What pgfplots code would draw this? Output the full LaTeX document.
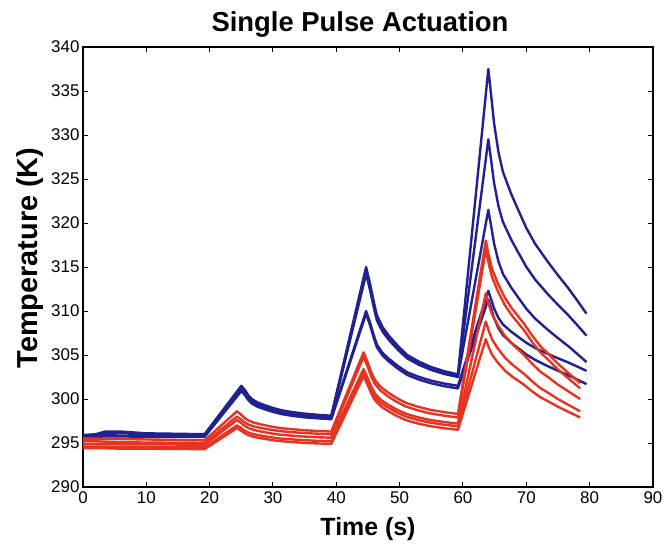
\documentclass[border=0pt]{standalone}
\usepackage{pgfplots}
\usepackage{pgfplotstable}
\pgfplotsset{compat=1.18}
\usepackage{fontspec}
\setmainfont{Liberation Sans}
\definecolor{mblue}{RGB}{32,34,146}
\definecolor{mred}{RGB}{230,52,34}

\pgfplotstableread{
t b1 b2 b3 b4 b5
0 295.9 295.8 295.8 295.7 295.7
2 296.0 295.9 295.9 295.75 295.7
3.5 296.3 296.2 296.0 295.8 295.75
6 296.3 296.2 296.1 295.8 295.75
10 296.1 296.0 296.0 295.8 295.7
19.2 296.0 295.95 295.9 295.8 295.7
25 301.5 301.3 301.2 301.0 300.9
25.6 300.99 300.81 300.71 300.52 300.42
26.1 300.41 300.24 300.14 299.98 299.88
26.7 299.97 299.82 299.72 299.56 299.46
27.6 299.6 299.45 299.35 299.21 299.11
28.6 299.32 299.19 299.09 298.95 298.85
30.0 298.98 298.86 298.76 298.63 298.53
31.4 298.71 298.59 298.49 298.38 298.28
33.1 298.51 298.4 298.3 298.18 298.08
34.9 298.34 298.23 298.13 298.02 297.92
37.1 298.2 298.1 298.0 297.9 297.8
39.2 298.1 298.0 297.9 297.8 297.7
44.7 315.0 314.6 314.2 310.0 309.7
45.3 313.17 312.8 312.45 308.73 308.43
45.9 311.1 310.76 310.46 307.28 306.98
46.4 309.51 309.2 308.94 306.18 305.88
47.3 308.17 307.88 307.65 305.24 304.94
48.3 307.19 306.92 306.71 304.56 304.26
49.8 305.97 305.72 305.54 303.71 303.41
51.2 305.0 304.76 304.61 303.03 302.73
53.0 304.26 304.04 303.9 302.52 302.22
54.9 303.65 303.44 303.32 302.1 301.8
57.0 303.17 302.96 302.85 301.76 301.46
59.2 302.8 302.6 302.5 301.5 301.2
64 337.5 329.5 321.5 312.3 311.3
64.5 334.16 326.82 319.42 311.21 310.15
64.9 331.38 324.59 317.69 310.3 309.19
65.6 328.05 321.92 315.62 309.21 308.04
66.3 325.82 320.13 314.23 308.48 307.27
67.6 323.32 318.13 312.68 307.66 306.4
68.7 321.52 316.68 311.55 307.07 305.78
70.0 319.43 315.01 310.26 306.39 305.06
71.4 317.62 313.56 309.13 305.79 304.44
73.3 315.68 311.99 307.92 305.16 303.76
74.9 314.15 310.77 306.97 304.66 303.24
76.6 312.62 309.54 306.02 304.16 302.71
78.0 311.23 308.43 305.15 303.7 302.23
79.5 309.7 307.2 304.2 303.2 301.7
}\bluedata

\pgfplotstableread{
t r1 r2 r3 r4 r5
0 295.5 295.2 294.9 294.6 294.4
2 295.5 295.2 294.9 294.6 294.4
3.5 295.45 295.15 294.9 294.6 294.4
6 295.45 295.1 294.85 294.55 294.35
10 295.4 295.05 294.85 294.55 294.35
19.2 295.3 295.0 294.8 294.5 294.3
24.3 298.6 298.0 297.6 297.0 296.7
24.9 298.26 297.7 297.3 296.73 296.43
25.5 297.86 297.36 296.96 296.42 296.12
26.1 297.57 297.1 296.7 296.19 295.89
27.0 297.31 296.88 296.48 295.99 295.69
28.0 297.13 296.72 296.32 295.85 295.55
29.5 296.9 296.52 296.12 295.67 295.37
31.0 296.71 296.36 295.96 295.52 295.22
32.8 296.58 296.24 295.84 295.42 295.12
34.7 296.46 296.14 295.74 295.33 295.03
37.0 296.37 296.06 295.66 295.25 294.95
39.2 296.3 296.0 295.6 295.2 294.9
44.3 305.3 304.8 303.4 303.0 302.6
44.9 304.25 303.77 302.47 302.09 301.69
45.5 303.06 302.59 301.42 301.05 300.65
46.1 302.15 301.7 300.61 300.26 299.86
47.0 301.38 300.94 299.93 299.58 299.18
48.0 300.82 300.38 299.43 299.1 298.7
49.5 300.12 299.69 298.81 298.49 298.09
51.0 299.56 299.14 298.32 298.0 297.6
52.8 299.14 298.73 297.94 297.63 297.23
54.7 298.79 298.38 297.63 297.33 296.93
57.0 298.51 298.11 297.39 297.08 296.68
59.2 298.3 297.9 297.2 296.9 296.5
63.6 318.0 317.0 312.0 308.8 306.8
64.05 316.38 315.42 310.8 307.78 305.91
64.6 314.76 313.84 309.6 306.76 305.02
65.5 313.14 312.26 308.4 305.74 304.13
66.6 311.52 310.68 307.2 304.72 303.24
67.8 310.22 309.42 306.24 303.9 302.53
69.6 308.6 307.84 305.04 302.88 301.64
70.9 307.23 306.49 304.02 302.02 300.88
72.2 306.01 305.31 303.12 301.25 300.21
73.6 305.04 304.36 302.4 300.64 299.68
74.9 304.07 303.41 301.68 300.03 299.15
76.7 302.93 302.31 300.84 299.31 298.52
78.5 301.8 301.2 300.0 298.6 297.9
}\reddata

\begin{document}
\begin{tikzpicture}
\path[use as bounding box] (-83bp,-60bp) rectangle (585bp,487bp);
\begin{axis}[
  scale only axis,
  width=570bp, height=440bp,
  at={(0,0)}, anchor=south west,
  xmin=0, xmax=90, ymin=290, ymax=340,
  xtick={0,10,...,90}, ytick={290,295,...,340},
  tick align=inside,
  major tick length=5bp,
  axis line style={line width=1.1bp},
  every tick/.style={line width=1bp, black},
  /pgf/number format/assume math mode=true,
  tick label style={font=\fontsize{17}{20}\selectfont},
  xticklabel style={yshift=-1bp},
  clip=false,
  every axis plot/.append style={line width=2.4bp, line join=round, no markers},
]
\addplot[mblue] table[x=t,y=b5] {\bluedata};
\addplot[mblue] table[x=t,y=b4] {\bluedata};
\addplot[mblue] table[x=t,y=b3] {\bluedata};
\addplot[mblue] table[x=t,y=b2] {\bluedata};
\addplot[mblue] table[x=t,y=b1] {\bluedata};
\addplot[mred] table[x=t,y=r5] {\reddata};
\addplot[mred] table[x=t,y=r4] {\reddata};
\addplot[mred] table[x=t,y=r3] {\reddata};
\addplot[mred] table[x=t,y=r2] {\reddata};
\addplot[mred] table[x=t,y=r1] {\reddata};
\end{axis}
\node[anchor=base, font=\fontsize{27.5}{30}\selectfont\bfseries] at (277bp,455bp) {Single Pulse Actuation};
\node[anchor=base, font=\fontsize{25}{30}\selectfont\bfseries] at (285bp,-48bp) {Time (s)};
\node[rotate=90, anchor=center, font=\fontsize{29}{32}\selectfont\bfseries] at (-53bp,229bp) {Temperature (K)};
\end{tikzpicture}
\end{document}
